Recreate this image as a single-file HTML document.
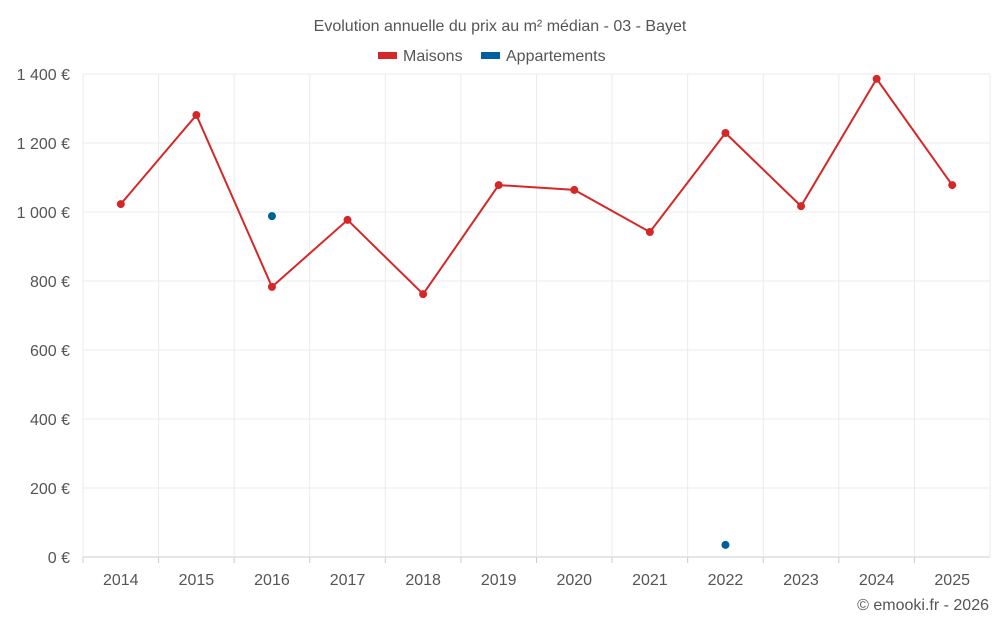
<!DOCTYPE html>
<html><head><meta charset="utf-8"><style>
body{margin:0;background:#fff;font-family:"Liberation Sans",sans-serif;}
svg text{font-family:"Liberation Sans",sans-serif;fill:#555;}
</style></head><body>
<svg id="c" width="1000" height="625">
<text x="500" y="31" text-anchor="middle" font-size="16">Evolution annuelle du prix au m² médian - 03 - Bayet</text>
<g>
<rect x="378" y="52" width="19" height="7" fill="#d62728"/>
<text x="403" y="61" font-size="16">Maisons</text>
<rect x="481" y="52" width="19" height="7" fill="#005f9e"/>
<text x="506" y="61" font-size="16">Appartements</text>
</g>
<g id="grid"></g><g id="axes"></g><g id="marks"></g>
<text x="989" y="610" text-anchor="end" font-size="16">© emooki.fr - 2026</text>
</svg>
<script>
const years=[2014,2015,2016,2017,2018,2019,2020,2021,2022,2023,2024,2025];
const maisons=[1023,1281,783,977,762,1078,1064,942,1229,1017,1386,1078];
const appartements=[null,null,988,null,null,null,null,null,35,null,null,null];
const yTicks=[0,200,400,600,800,1000,1200,1400];
const yTickLabels=["0 €","200 €","400 €","600 €","800 €","1 000 €","1 200 €","1 400 €"];
const L=83,R=990,T=74,B=557,yMax=1400;
const band=(R-L)/years.length;
const x=i=>L+band*(i+0.5);
const y=v=>B-(v/yMax)*(B-T);
const NS="http://www.w3.org/2000/svg";
function mk(t,a,p){const e=document.createElementNS(NS,t);for(const k in a)e.setAttribute(k,a[k]);p.appendChild(e);return e;}
const g=document.getElementById('grid'),ax=document.getElementById('axes'),m=document.getElementById('marks');
yTicks.forEach((v,i)=>{
const l=mk('line',{x1:L,x2:R,y1:y(v),y2:y(v),stroke:v===0?'#ccc':'#ebebeb'},g);


const t=mk('text',{x:70,y:y(v)+6,'text-anchor':'end','font-size':16},ax);t.textContent=yTickLabels[i];


});
for(let i=0;i<=years.length;i++){
const l=mk('line',{x1:L+band*i,x2:L+band*i,y1:T,y2:B,stroke:'#ebebeb'},g);


}
years.forEach((yr,i)=>{
const tk=mk('line',{x1:L+band*i,x2:L+band*i,y1:B,y2:B+6,stroke:'#ccc'},ax);


const t=mk('text',{x:x(i),y:585,'text-anchor':'middle','font-size':16},ax);t.textContent=yr;


});
const pl=mk('polyline',{points:maisons.map((v,i)=>x(i)+','+y(v)).join(' '),fill:'none',stroke:'#d62728','stroke-width':2},m);


maisons.forEach((v,i)=>{
const c=mk('circle',{cx:x(i),cy:y(v),r:4,fill:'#d62728'},m);


});
appartements.forEach((v,i)=>{if(v===null)return;
const c=mk('circle',{cx:x(i),cy:y(v),r:4,fill:'#005f9e'},m);


});
</script>
</body></html>
